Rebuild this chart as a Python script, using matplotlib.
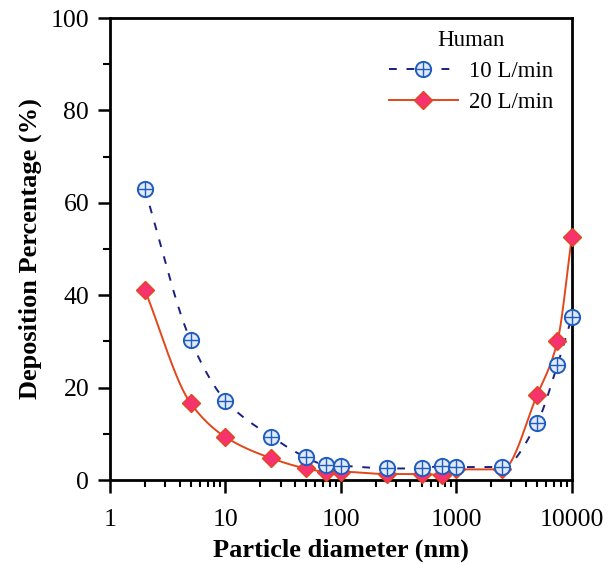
import numpy as np
import matplotlib.pyplot as plt
from matplotlib.lines import Line2D
from matplotlib.ticker import LogLocator, FixedLocator, NullFormatter

plt.rcParams['font.family'] = ['Liberation Serif', 'DejaVu Serif']

# particle sizes (nm) and deposition (%) for the two flow rates
diameter = [2, 5, 10, 25, 50, 75, 100, 250, 500, 750, 1000, 2500, 5000, 7500, 10000]
dep_10 = [63.0, 30.2, 17.2, 9.4, 4.9, 3.2, 3.1, 2.5, 2.5, 3.1, 2.8, 2.8, 12.4, 24.9, 35.3]
dep_20 = [41.2, 16.6, 9.3, 4.7, 2.5, 1.8, 1.8, 1.3, 1.3, 1.1, 2.3, 2.3, 18.4, 30.0, 52.6]
legend_labels = ['10 L/min', '20 L/min']


def pchip(x, y, xs):
    # monotone cubic through the points, for a smooth connecting line
    x = np.asarray(x, float)
    y = np.asarray(y, float)
    h = np.diff(x)
    d = np.diff(y) / h
    m = np.zeros_like(y)
    for k in range(1, len(x) - 1):
        if d[k - 1] * d[k] > 0:
            w1 = 2 * h[k] + h[k - 1]
            w2 = h[k] + 2 * h[k - 1]
            m[k] = (w1 + w2) / (w1 / d[k - 1] + w2 / d[k])
    m[0] = d[0]
    m[-1] = d[-1]
    idx = np.clip(np.searchsorted(x, xs) - 1, 0, len(x) - 2)
    t = (xs - x[idx]) / h[idx]
    h00 = 2 * t**3 - 3 * t**2 + 1
    h10 = t**3 - 2 * t**2 + t
    h01 = -2 * t**3 + 3 * t**2
    h11 = t**3 - t**2
    return h00 * y[idx] + h10 * h[idx] * m[idx] + h01 * y[idx + 1] + h11 * h[idx] * m[idx + 1]


lx = np.log10(diameter)
xs = np.linspace(lx[0], lx[-1], 600)
smooth_10 = pchip(lx, dep_10, xs)
smooth_20 = pchip(lx, dep_20, xs)

fig = plt.figure(figsize=(6.09, 5.65), dpi=100)
ax = fig.add_axes([0.1806, 0.1504, 0.7584, 0.8177])

blue_line = '#1c2080'
blue_edge = '#1f5cc0'
blue_face = '#e2eaf6'
red_line = '#e2471c'
red_face = '#f7336f'

ax.plot(10**xs, smooth_10, color=blue_line, lw=1.4, ls=(0, (4, 5)), zorder=2)
ax.plot(10**xs, smooth_20, color=red_line, lw=1.4, zorder=2)

ax.plot(diameter, dep_20, ls='none', marker='D', ms=9, mfc=red_face, mec=red_line, mew=1.0,
        zorder=3, clip_on=False)
ax.plot(diameter, dep_10, ls='none', marker='o', ms=11, mfc=blue_face, mec=blue_edge, mew=1.4,
        zorder=4, clip_on=False)
ax.plot(diameter, dep_10, ls='none', marker='+', ms=11, mec=blue_edge, mew=1.0,
        zorder=5, clip_on=False)

ax.set_xscale('log')
ax.set_xlim(1, 10000)
ax.set_ylim(0, 100)
ax.xaxis.set_major_locator(FixedLocator([1, 10, 100, 1000, 10000]))
ax.xaxis.set_minor_locator(LogLocator(base=10, subs=np.arange(2, 10)))
ax.xaxis.set_minor_formatter(NullFormatter())
ax.set_xticklabels(['1', '10', '100', '1000', '10000'])
ax.set_yticks([0, 20, 40, 60, 80, 100])
ax.set_yticks(np.arange(10, 100, 20), minor=True)

ax.tick_params(which='major', direction='out', length=9, width=1.8, labelsize=18.5, pad=6)
ax.tick_params(which='minor', direction='out', length=5, width=1.5)
ax.tick_params(axis='x', which='major', pad=12)
for side in ['left', 'right', 'top', 'bottom']:
    ax.spines[side].set_linewidth(2.0)

ax.set_xlabel('Particle diameter (nm)', fontsize=19, fontweight='bold', labelpad=5)
ax.set_ylabel('Deposition Percentage (%)', fontsize=19, fontweight='bold', labelpad=6)

handles = [
    (Line2D([], [], color=blue_line, lw=1.4, ls=(0, (4, 5))),
     Line2D([], [], ls='none', marker='o', ms=11, mfc=blue_face, mec=blue_edge, mew=1.4),
     Line2D([], [], ls='none', marker='+', ms=11, mec=blue_edge, mew=1.0)),
    (Line2D([], [], color=red_line, lw=1.4),
     Line2D([], [], ls='none', marker='D', ms=9, mfc=red_face, mec=red_line, mew=1.0)),
]
leg = ax.legend(handles, legend_labels, title='Human', loc='upper right', frameon=False,
                fontsize=16.5, title_fontsize=16.5, handlelength=3.0, handletextpad=0.5,
                labelspacing=0.45, borderaxespad=0.0, bbox_to_anchor=(0.98, 0.995))

fig.savefig('out.png', dpi=100)
